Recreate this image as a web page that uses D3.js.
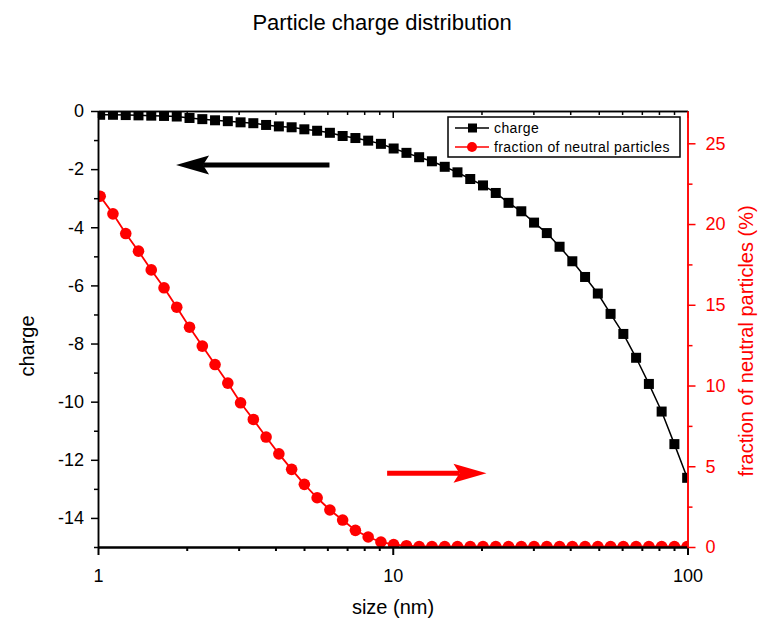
<!DOCTYPE html>
<html>
<head>
<meta charset="utf-8">
<script src="https://cdn.jsdelivr.net/npm/d3@7"></script>
<style>
  body { margin: 0; background: #fff; }
  text { font-family: "Liberation Sans", Arial, sans-serif; }
</style>
</head>
<body>
<div id="chart"></div>
<script>
// particle size (nm), shared by both series
const sizes = [1.017, 1.124, 1.242, 1.372, 1.516, 1.675, 1.850, 2.044, 2.259, 2.495,
  2.757, 3.046, 3.365, 3.718, 4.108, 4.539, 5.013, 5.539, 6.120, 6.761,
  7.470, 8.253, 9.118, 10.07, 11.13, 12.29, 13.58, 15.01, 16.58, 18.32,
  20.24, 22.36, 24.71, 27.30, 30.16, 33.32, 36.81, 40.67, 44.93, 49.63,
  54.83, 60.58, 66.93, 73.96, 81.71, 90.27, 99.75];

// mean particle charge (left axis)
const charge = [-0.13, -0.13, -0.14, -0.15, -0.16, -0.17, -0.19, -0.24, -0.28, -0.32,
  -0.35, -0.39, -0.42, -0.48, -0.53, -0.56, -0.63, -0.68, -0.75, -0.86,
  -0.93, -1.02, -1.13, -1.29, -1.44, -1.59, -1.73, -1.92, -2.11, -2.34,
  -2.56, -2.82, -3.16, -3.45, -3.84, -4.20, -4.67, -5.17, -5.71, -6.28,
  -6.98, -7.67, -8.49, -9.39, -10.34, -11.46, -12.62];

// fraction of neutral particles in % (right axis)
const neutral = [21.72, 20.63, 19.41, 18.32, 17.16, 16.05, 14.85, 13.61, 12.44, 11.30,
  10.15, 8.93, 7.90, 6.81, 5.77, 4.81, 3.88, 3.05, 2.29, 1.67,
  1.03, 0.62, 0.31, 0.15, 0.08, 0.03, 0.03, 0.03, 0.03, 0.03,
  0.03, 0.03, 0.03, 0.03, 0.03, 0.03, 0.03, 0.03, 0.03, 0.03,
  0.03, 0.03, 0.03, 0.03, 0.03, 0.03, 0.03];

const xMajor = [1, 10, 100];
const xMinor = [2, 3, 4, 5, 6, 7, 8, 9, 20, 30, 40, 50, 60, 70, 80, 90];
const leftMajor = [0, -2, -4, -6, -8, -10, -12, -14];
const leftMinor = [-1, -3, -5, -7, -9, -11, -13, -15];
const rightMajor = [0, 5, 10, 15, 20, 25];
const rightMinor = [2.5, 7.5, 12.5, 17.5, 22.5];

const width = 759;
const height = 620;
const plot = { left: 98, right: 687.5, top: 111, bottom: 547 };

const svg = d3.select("#chart")
    .append("svg")
    .attr("width", width)
    .attr("height", height);

const xScale = d3.scaleLog()
    .domain([1, 100])
    .range([plot.left, plot.right]);

const yLeft = d3.scaleLinear()
    .domain([-15, 0])
    .range([plot.bottom, plot.top]);

const yRight = d3.scaleLinear()
    .domain([0, 27])
    .range([plot.bottom, plot.top]);

const fmt = d => String(d);

// clip markers to the plot frame
svg.append("clipPath")
    .attr("id", "clip")
    .append("rect")
    .attr("x", plot.left)
    .attr("y", plot.top)
    .attr("width", plot.right - plot.left)
    .attr("height", plot.bottom - plot.top);

// title and axis titles
svg.append("text")
    .attr("x", 382)
    .attr("y", 30)
    .attr("text-anchor", "middle")
    .attr("font-size", 22)
    .text("Particle charge distribution");

svg.append("text")
    .attr("transform", "translate(34,346) rotate(-90)")
    .attr("text-anchor", "middle")
    .attr("font-size", 20)
    .text("charge");

svg.append("text")
    .attr("x", 393)
    .attr("y", 614)
    .attr("text-anchor", "middle")
    .attr("font-size", 20)
    .text("size (nm)");

svg.append("text")
    .attr("transform", "translate(753,341) rotate(-90)")
    .attr("text-anchor", "middle")
    .attr("font-size", 20)
    .attr("fill", "red")
    .text("fraction of neutral particles (%)");

// data series
const charged = sizes.map((s, i) => ({ x: s, y: charge[i] }));
const neutrals = sizes.map((s, i) => ({ x: s, y: neutral[i] }));

const series = svg.append("g").attr("clip-path", "url(#clip)");

series.append("path")
    .datum(neutrals)
    .attr("fill", "none")
    .attr("stroke", "red")
    .attr("stroke-width", 1.8)
    .attr("d", d3.line().x(d => xScale(d.x)).y(d => yRight(d.y)));

series.selectAll(".dot")
    .data(neutrals)
    .enter().append("circle")
    .attr("class", "dot")
    .attr("cx", d => xScale(d.x))
    .attr("cy", d => yRight(d.y))
    .attr("r", 5.8)
    .attr("fill", "red");

series.append("path")
    .datum(charged)
    .attr("fill", "none")
    .attr("stroke", "black")
    .attr("stroke-width", 1.5)
    .attr("d", d3.line().x(d => xScale(d.x)).y(d => yLeft(d.y)));

series.selectAll(".sq")
    .data(charged)
    .enter().append("rect")
    .attr("class", "sq")
    .attr("x", d => xScale(d.x) - 5)
    .attr("y", d => yLeft(d.y) - 5)
    .attr("width", 10)
    .attr("height", 10)
    .attr("fill", "black");

// axes
function styleAxis(g, color, width) {
    g.select(".domain").attr("stroke", color).attr("stroke-width", width);
    g.selectAll(".tick line").attr("stroke", color).attr("stroke-width", width);
    g.selectAll(".tick text").attr("fill", color)
        .attr("font-family", "Liberation Sans, Arial, sans-serif");
}

// bottom
svg.append("g")
    .attr("transform", `translate(0,${plot.bottom})`)
    .call(d3.axisBottom(xScale).tickValues(xMinor).tickSize(4).tickFormat("").tickSizeOuter(0))
    .call(g => styleAxis(g, "black", 2));
svg.append("g")
    .attr("transform", `translate(0,${plot.bottom})`)
    .call(d3.axisBottom(xScale).tickValues(xMajor).tickSize(8).tickPadding(14).tickFormat(fmt).tickSizeOuter(0))
    .call(g => styleAxis(g, "black", 2))
    .attr("font-size", 18);

// top (ticks point inward)
svg.append("g")
    .attr("transform", `translate(0,${plot.top})`)
    .call(d3.axisBottom(xScale).tickValues(xMinor).tickSize(4).tickFormat("").tickSizeOuter(0))
    .call(g => styleAxis(g, "black", 1.5));
svg.append("g")
    .attr("transform", `translate(0,${plot.top})`)
    .call(d3.axisBottom(xScale).tickValues(xMajor).tickSize(7).tickFormat("").tickSizeOuter(0))
    .call(g => styleAxis(g, "black", 1.5));

// left
svg.append("g")
    .attr("transform", `translate(${plot.left},0)`)
    .call(d3.axisLeft(yLeft).tickValues(leftMinor).tickSize(4).tickFormat("").tickSizeOuter(0))
    .call(g => styleAxis(g, "black", 1.5));
svg.append("g")
    .attr("transform", `translate(${plot.left},0)`)
    .call(d3.axisLeft(yLeft).tickValues(leftMajor).tickSize(7).tickPadding(7).tickFormat(fmt).tickSizeOuter(0))
    .call(g => styleAxis(g, "black", 1.5))
    .attr("font-size", 18);

// right
svg.append("g")
    .attr("transform", `translate(${plot.right},0)`)
    .call(d3.axisRight(yRight).tickValues(rightMinor).tickSize(5).tickFormat("").tickSizeOuter(0))
    .call(g => styleAxis(g, "red", 1.5));
svg.append("g")
    .attr("transform", `translate(${plot.right},0)`)
    .call(d3.axisRight(yRight).tickValues(rightMajor).tickSize(8).tickPadding(10).tickFormat(fmt).tickSizeOuter(0))
    .call(g => styleAxis(g, "red", 1.5))
    .attr("font-size", 18);

// annotation arrows, placed in data coordinates
function arrow(x0, x1, y, color) {
    const xa = xScale(x0), xb = xScale(x1), dir = Math.sign(xb - xa);
    const head = 33, half = 9.5, notch = 6;
    svg.append("line")
        .attr("x1", xa).attr("y1", y)
        .attr("x2", xb - dir * (head - notch)).attr("y2", y)
        .attr("stroke", color)
        .attr("stroke-width", 5);
    svg.append("path")
        .attr("d", `M${xb},${y} L${xb - dir * head},${y - half} L${xb - dir * (head - notch)},${y} L${xb - dir * head},${y + half} Z`)
        .attr("fill", color);
}
arrow(6.1, 1.84, yLeft(-1.86), "black");
arrow(9.57, 20.8, yRight(4.56), "red");

// legend
const legend = svg.append("g");
legend.append("rect")
    .attr("x", 448).attr("y", 117)
    .attr("width", 232).attr("height", 40)
    .attr("fill", "white")
    .attr("stroke", "black")
    .attr("stroke-width", 1.5);

const legendItems = [
    { label: "charge", color: "black", shape: "square", y: 128 },
    { label: "fraction of neutral particles", color: "red", shape: "circle", y: 147 }
];
legendItems.forEach(d => {
    legend.append("line")
        .attr("x1", 455).attr("x2", 489)
        .attr("y1", d.y).attr("y2", d.y)
        .attr("stroke", d.color)
        .attr("stroke-width", 1.5);
    if (d.shape === "square") {
        legend.append("rect")
            .attr("x", 468).attr("y", d.y - 4.5)
            .attr("width", 9).attr("height", 9)
            .attr("fill", d.color);
    } else {
        legend.append("circle")
            .attr("cx", 472).attr("cy", d.y)
            .attr("r", 5).attr("fill", d.color);
    }
    legend.append("text")
        .attr("x", 494)
        .attr("y", d.y + 5)
        .attr("font-size", 14)
        .attr("letter-spacing", 0.4)
        .text(d.label);
});
</script>
</body>
</html>
